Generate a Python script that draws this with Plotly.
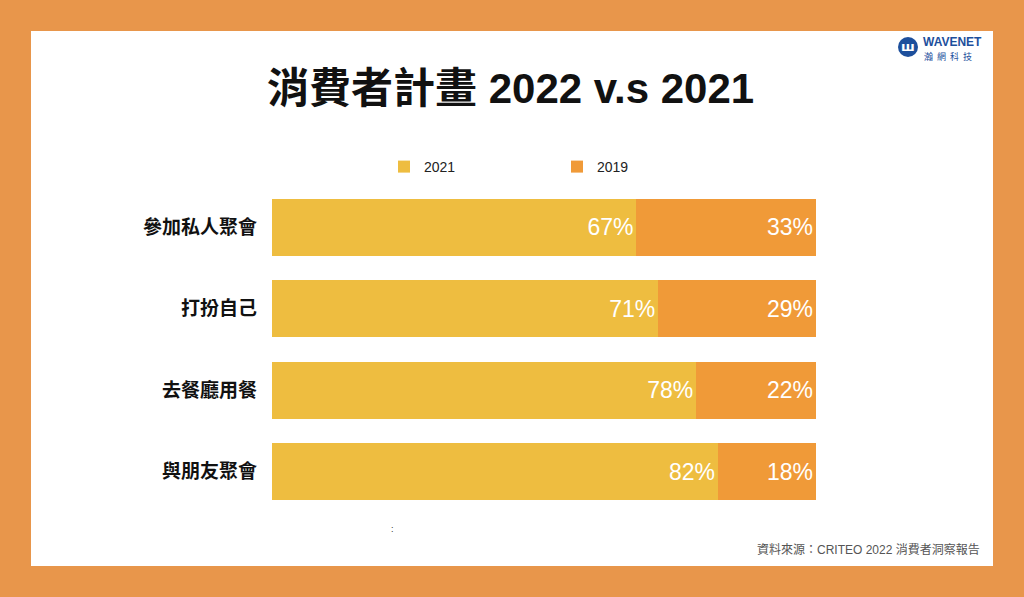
import plotly.graph_objects as go

categories = ["參加私人聚會", "打扮自己", "去餐廳用餐", "與朋友聚會"]
values_2021 = [67, 71, 78, 82]
values_2019 = [33, 29, 22, 18]
series_names = ["2021", "2019"]

W, H = 1024, 597
FONT = "Liberation Sans, Arial, Noto Sans CJK TC, sans-serif"
CJK = "Noto Sans CJK TC, sans-serif"
YELLOW = "#EEBD40"
ORANGE = "#F09A38"
BG = "#E8964B"

fig = go.Figure()
for name, vals, col in [(series_names[0], values_2021, YELLOW), (series_names[1], values_2019, ORANGE)]:
    fig.add_trace(go.Bar(
        y=categories, x=vals, name=name, orientation="h",
        marker=dict(color=col, line=dict(width=0)),
        text=[f"{v}%" for v in vals], textposition="inside",
        insidetextanchor="end", textangle=0,
        textfont=dict(color="white", size=23, family=FONT),
        width=0.7,
    ))

def px_x(x):
    return x / W

def px_y(y):
    return 1 - y / H

fig.update_layout(
    width=W, height=H,
    margin=dict(l=0, r=0, t=0, b=0),
    paper_bgcolor=BG, plot_bgcolor="white",
    barmode="stack", bargap=0.3,
    showlegend=True,
    legend=dict(orientation="h", x=px_x(384), y=px_y(151), xanchor="left", yanchor="top",
                entrywidth=128, entrywidthmode="pixels", traceorder="normal",
                font=dict(size=14, family=FONT, color="#222"), bgcolor="rgba(0,0,0,0)",
                itemsizing="constant"),
    xaxis=dict(domain=[px_x(272), px_x(816)], range=[0, 100], visible=False, fixedrange=True),
    yaxis=dict(domain=[px_y(512.2), px_y(186.8)], autorange="reversed",
               showgrid=False, zeroline=False, showline=False, ticks="",
               tickfont=dict(size=19, family=CJK, color="#111"),
               ticklabelstandoff=14, fixedrange=True,
               tickvals=categories, ticktext=[f"<b>{c}</b>" for c in categories]),
    font=dict(family=FONT),
)

# white panel
fig.add_shape(type="rect", xref="paper", yref="paper", layer="below",
              x0=px_x(31), x1=px_x(993), y0=px_y(566), y1=px_y(31),
              fillcolor="white", line=dict(width=0))

# title
fig.add_annotation(text="<b>消費者計畫 2022 v.s 2021</b>", xref="paper", yref="paper",
                   x=px_x(510), y=px_y(88), xanchor="center", yanchor="middle",
                   showarrow=False, font=dict(size=42, family=FONT + ", " + CJK, color="#111"))

# source
fig.add_annotation(text="資料來源：CRITEO 2022 消費者洞察報告", xref="paper", yref="paper",
                   x=px_x(982), y=px_y(549), xanchor="right", yanchor="middle",
                   showarrow=False, font=dict(size=12, family=FONT + ", " + CJK, color="#555"))

# tiny artifact
fig.add_annotation(text=":", xref="paper", yref="paper",
                   x=px_x(392), y=px_y(529), xanchor="center", yanchor="middle",
                   showarrow=False, font=dict(size=9, family=FONT, color="#333"))

# logo
BLUE = "#1D4F9C"
fig.add_shape(type="circle", xref="paper", yref="paper",
              x0=px_x(898), x1=px_x(918), y0=px_y(57), y1=px_y(37),
              fillcolor=BLUE, line=dict(width=0))
fig.add_annotation(text="<b>ш</b>", xref="paper", yref="paper",
                   x=px_x(908), y=px_y(46), xanchor="center", yanchor="middle",
                   showarrow=False, font=dict(size=13, family="DejaVu Sans", color="white"))
fig.add_annotation(text="<b>WAVENET</b>", xref="paper", yref="paper",
                   x=px_x(921), y=px_y(42), xanchor="left", yanchor="middle",
                   showarrow=False, font=dict(size=12, family=FONT, color=BLUE))
fig.add_annotation(text="瀚  網  科  技", xref="paper", yref="paper",
                   x=px_x(922), y=px_y(56), xanchor="left", yanchor="middle",
                   showarrow=False, font=dict(size=9, family=CJK, color=BLUE))

fig.write_html("out.html", config={"displayModeBar": False},
               post_script="document.body.style.margin='0';document.body.style.overflow='hidden';")
